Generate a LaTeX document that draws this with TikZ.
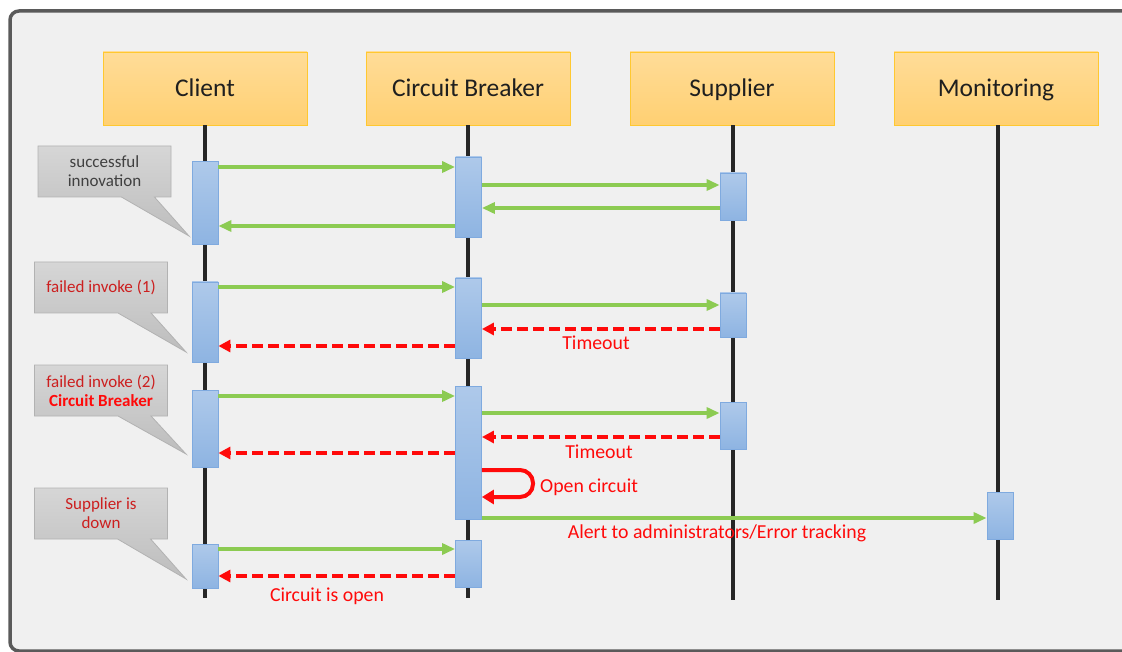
\documentclass[tikz,border=0pt]{standalone}
\usepackage{fontspec}
\setmainfont{Carlito}
\usetikzlibrary{arrows.meta,shapes.callouts}
\definecolor{frameline}{HTML}{5A5A5A}
\definecolor{framefill}{HTML}{F0F0F0}
\definecolor{headtop}{HTML}{FFDC98}
\definecolor{headbot}{HTML}{FFD072}
\definecolor{headline}{HTML}{FFC830}
\definecolor{acttop}{HTML}{AEC9EA}
\definecolor{actbot}{HTML}{8EB4E2}
\definecolor{actline}{HTML}{7FAADF}
\definecolor{notetop}{HTML}{D6D6D6}
\definecolor{notebot}{HTML}{BDBDBD}
\definecolor{noteline}{HTML}{B2B2B2}
\definecolor{okgreen}{HTML}{8CCB52}
\definecolor{failred}{HTML}{FF0A0A}
\definecolor{notered}{HTML}{CC1F1F}
\definecolor{lifeline}{HTML}{262626}
\begin{document}
\begin{tikzpicture}[x=1pt,y=-1pt,
  head/.style={draw=headline, line width=0.8pt, top color=headtop, bottom color=headbot,
    minimum width=204pt, minimum height=73pt, inner sep=0pt,
    text height=22pt, text depth=5pt,
    font=\fontsize{25.5}{30}\selectfont, text=black!88},
  act/.style={draw=actline, line width=0.8pt, top color=acttop, bottom color=actbot,
    minimum width=26pt, inner sep=0pt},
  life/.style={draw=lifeline, line width=3.5pt},
  ok/.style={draw=okgreen, line width=3.3pt, -{Triangle[length=13pt,width=11pt]}},
  fail/.style={draw=failred, line width=3.5pt, dash pattern=on 11pt off 5pt,
    -{Triangle[length=12pt,width=12pt]}},
  lbl/.style={text=failred, font=\fontsize{19.8}{23}\selectfont, inner sep=0pt},
  note/.style={rectangle callout, draw=noteline, line width=0.8pt,
    top color=notetop, bottom color=notebot, minimum width=133pt, minimum height=51pt,
    callout pointer width=33pt, align=center, inner sep=0pt,
    font=\fontsize{17}{20}\selectfont, text=notered},
]
\useasboundingbox (0,0) rectangle (1122,652);

% outer panel
\begin{scope}
\clip (0,0) rectangle (1122,652);
\draw[draw=frameline, fill=framefill, line width=3.5pt, rounded corners=9pt]
  (10,11) rectangle (1145,651);
\end{scope}

% participants
\node[head] (client)  at (205,88.5) {Client};
\node[head] (breaker) at (468,88.5) {Circuit Breaker};
\node[head] (supp)    at (732,88.5) {Supplier};
\node[head] (mon)     at (996,88.5) {Monitoring};

% lifelines
\coordinate (clientEnd)  at (205,598);
\coordinate (breakerEnd) at (468,598);
\coordinate (suppEnd)    at (733,600);
\coordinate (monEnd)     at (998,600);
\draw[life] (client.south -| clientEnd) -- (clientEnd);
\draw[life] (breaker.south -| breakerEnd) -- (breakerEnd);
\draw[life] (supp.south -| suppEnd) -- (suppEnd);
\draw[life] (mon.south -| monEnd) -- (monEnd);

% activations: client
\node[act, minimum height=83pt] (c1) at (205,203)   {};
\node[act, minimum height=80pt] (c2) at (205,322)   {};
\node[act, minimum height=77pt] (c3) at (205,428.5) {};
\node[act, minimum height=44pt] (c4) at (205,566)   {};
% activations: circuit breaker
\node[act, minimum height=80pt]  (b1) at (468.5,197)   {};
\node[act, minimum height=80pt]  (b2) at (468.5,318)   {};
\node[act, minimum height=133pt] (b3) at (468.5,452.5) {};
\node[act, minimum height=47pt]  (b4) at (468.5,563.5) {};
% activations: supplier
\node[act, minimum height=47pt] (s1) at (733,196.5) {};
\node[act, minimum height=44pt] (s2) at (733,315)   {};
\node[act, minimum height=47pt] (s3) at (733,425.5) {};
% activation: monitoring
\node[act, minimum height=47pt] (m1) at (1000,515.5) {};

% successful call
\draw[ok] (c1.east |- 0,167) -- (b1.west |- 0,167);
\draw[ok] (b1.east |- 0,185) -- (s1.west |- 0,185);
\draw[ok] (s1.west |- 0,208) -- (b1.east |- 0,208);
\draw[ok] (b1.west |- 0,226) -- (c1.east |- 0,226);

% failed call (1)
\draw[ok] (c2.east |- 0,287) -- (b2.west |- 0,287);
\draw[ok] (b2.east |- 0,305) -- (s2.west |- 0,305);
\draw[fail] (s2.west |- 0,329) -- (b2.east |- 0,329);
\draw[fail] (b2.west |- 0,346) -- (c2.east |- 0,346);
\node[lbl] (to1) at (596,343) {Timeout};

% failed call (2), breaker trips
\draw[ok] (c3.east |- 0,396) -- (b3.west |- 0,396);
\draw[ok] (b3.east |- 0,413) -- (s3.west |- 0,413);
\draw[fail] (s3.west |- 0,437) -- (b3.east |- 0,437);
\draw[fail] (b3.west |- 0,453) -- (c3.east |- 0,453);
\node[lbl] (to2) at (599,452) {Timeout};
\draw[draw=failred, line width=4pt, rounded corners=13pt, -{Triangle[length=12pt,width=14pt]}]
  (b3.east |- 0,470) -- (533,470) -- (533,497) -- (b3.east |- 0,497);
\node[lbl, anchor=west] (oc) at (540,487) {Open circuit};
\draw[ok] (b3.east |- 0,518) -- (m1.west |- 0,518);
\node[lbl] (alert) at (717,533) {Alert to administrators/Error tracking};

% breaker open
\draw[ok] (c4.east |- 0,549) -- (b4.west |- 0,549);
\draw[fail] (b4.west |- 0,576) -- (c4.east |- 0,576);
\node[lbl] (cio) at (327,596) {Circuit is open};

% notes
\node[note, text=black!75, callout absolute pointer={(189,236)}] (n1) at (104.5,171.5)
  {successful\\[-1pt]innovation};
\node[note, callout absolute pointer={(186,352)}] (n2) at (101,287.5) {failed invoke (1)};
\node[note, callout absolute pointer={(186,454)}] (n3) at (101,390.5)
  {failed invoke (2)\\[-1pt]{\bfseries\color{failred}Circuit Breaker}};
\node[note, callout absolute pointer={(186,579)}] (n4) at (101,513.5)
  {Supplier is\\[-1pt]down};
\end{tikzpicture}
\end{document}
